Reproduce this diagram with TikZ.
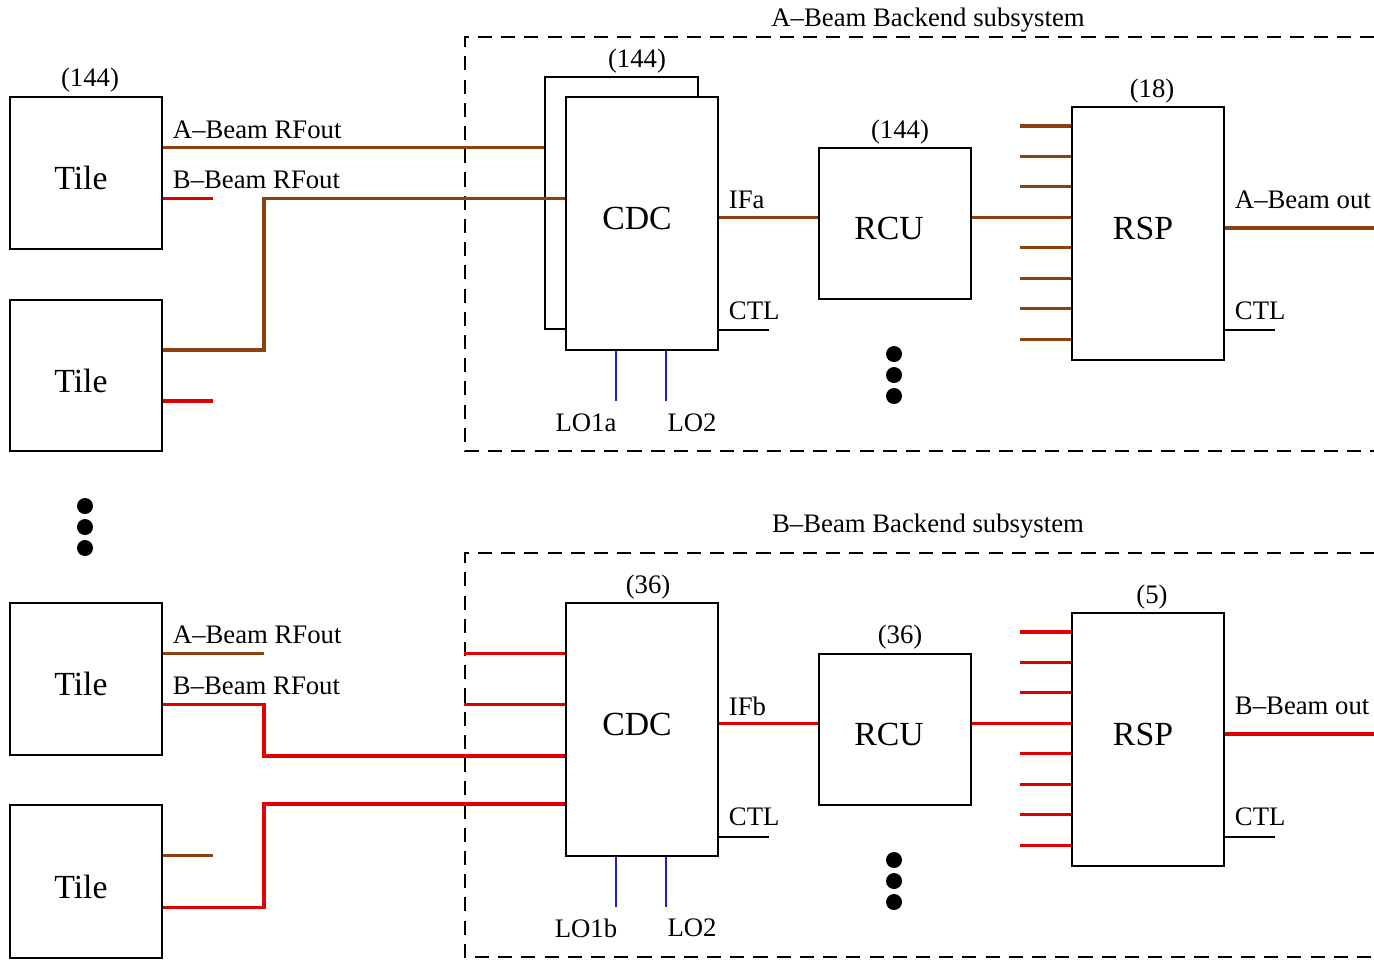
\documentclass[tikz,border=0pt]{standalone}
\usepackage{fontspec}
\setmainfont{Liberation Serif}
\usetikzlibrary{calc,positioning}
\definecolor{abrown}{RGB}{140,66,16}
\definecolor{bred}{RGB}{222,0,0}
\definecolor{loblue}{RGB}{30,30,200}
\newcommand{\bigtxt}{\fontsize{9.6}{11}\selectfont}
\newcommand{\smalltxt}{\fontsize{7.6}{9}\selectfont}

\begin{document}
\begin{tikzpicture}[x=0.01cm,y=-0.01cm,line width=0.55pt,
  blk/.style={draw,fill=white,inner sep=0pt},
  tile/.style={blk,minimum width=1.52cm,minimum height=1.52cm},
  tall/.style={blk,minimum width=1.52cm,minimum height=2.53cm},
  big/.style={font=\bigtxt,inner sep=0pt},
  lbl/.style={font=\smalltxt,inner sep=0pt},
  abeam/.style={abrown,line width=0.9pt},
  bbeam/.style={bred,line width=0.9pt},
  lo/.style={loblue,line width=0.6pt},
  subsys/.style={dash pattern=on 4pt off 2.6pt},
  blob/.style={fill=black}]
  \useasboundingbox (0,0) rectangle (1374,959);
  % subsystem frames
  \draw[subsys] (1374,37) -- (465,37) -- (465,451) -- (1374,451);
  \draw[subsys] (1374,553) -- (465,553) -- (465,957) -- (1374,957);
  \node[lbl] (titleA) at (928,20) {A--Beam Backend subsystem};
  \node[lbl] (titleB) at (928,526) {B--Beam Backend subsystem};
  % tiles
  \node[tile] (tile1) at (86,173) {};
  \node[tile,minimum height=1.51cm] (tile2) at (86,375.5) {};
  \node[tile] (tile3) at (86,679) {};
  \node[tile,minimum height=1.53cm] (tile4) at (86,881.5) {};
  \foreach \t in {1,...,4} {
    \node[big] (tile\t txt) at ([shift={(-5,5)}]tile\t.center) {Tile};
    \coordinate (t\t a) at ($(tile\t.north east)!1/3!(tile\t.south east)$);
    \coordinate (t\t b) at ($(tile\t.north east)!2/3!(tile\t.south east)$);
  }
  \node[lbl] (ntile) at (90,80) {(144)};
  \foreach \y in {506,527,548} \fill[blob] (85,\y) circle (0.08cm);
  \node[lbl,anchor=west] (rfA1) at (172,130) {A--Beam RFout};
  \node[lbl,anchor=west] (rfB1) at (172,180) {B--Beam RFout};
  \node[lbl,anchor=west] (rfA3) at (172,635) {A--Beam RFout};
  \node[lbl,anchor=west] (rfB3) at (172,686) {B--Beam RFout};

  % A-beam chain
  \node[tall,minimum width=1.53cm,minimum height=2.52cm] (cdcAback) at (621.5,203) {};
  \node[tall] (cdcA) at (642,223.5) {};
  \node[big] (cdcAtxt) at (637,218) {CDC};
  \node[lbl] (ncdcA) at (637,61) {(144)};
  \node[tile,minimum height=1.51cm] (rcuA) at (895,223.5) {};
  \node[big] (rcuAtxt) at (889,228) {RCU};
  \node[lbl] (nrcuA) at (900,132) {(144)};
  \node[tall] (rspA) at (1148,233.5) {};
  \node[big] (rspAtxt) at (1143,228) {RSP};
  \node[lbl] (nrspA) at (1152,91) {(18)};
  \foreach \k in {0,...,7}
    \coordinate (sA\k) at ([yshift={-0.2cm-\k*0.3043cm}]rspA.north west);
  \foreach \k in {0,1,2,4,5,6,7} \draw[abeam] (sA\k) -- ++(-51,0);
  \draw[abeam] (t1a) -- (t1a -| cdcAback.west);
  \draw[bbeam] (t1b) -- ++(50,0);
  \draw[abeam] (t2a) -- ++(101,0) |- (cdcA.west |- t1b);
  \draw[bbeam] (t2b) -- ++(50,0);
  \draw[abeam] (cdcA.east |- sA3) -- (rcuA.west |- sA3);
  \draw[abeam] (rcuA.east |- sA3) -- (sA3);
  \draw[abeam] ([yshift=0.055cm]rspA.east) -- ++(150,0);
  \draw ([yshift=0.21cm]cdcA.south east) -- ++(50,0);
  \draw ([yshift=0.31cm]rspA.south east) -- ++(50,0);
  \draw[lo] ([xshift=0.51cm]cdcA.south west) -- ++(0,50);
  \draw[lo] ([xshift=1.01cm]cdcA.south west) -- ++(0,50);
  \node[lbl,anchor=west] (ifA) at (728,200) {IFa};
  \node[lbl,anchor=west] (ctlcA) at (728,311) {CTL};
  \node[lbl,anchor=west] (outA) at (1234,200) {A--Beam out};
  \node[lbl,anchor=west] (ctlrA) at (1234,311) {CTL};
  \node[lbl] (loA1) at (586,423) {LO1a};
  \node[lbl] (loA2) at (692,423) {LO2};
  \foreach \y in {354,375,396} \fill[blob] (894,\y) circle (0.08cm);

  % B-beam chain
  \node[tall] (cdcB) at (642,729.5) {};
  \node[big] (cdcBtxt) at (637,724) {CDC};
  \node[lbl] (ncdcB) at (648,587) {(36)};
  \node[tile,minimum height=1.51cm] (rcuB) at (895,729.5) {};
  \node[big] (rcuBtxt) at (889,734) {RCU};
  \node[lbl] (nrcuB) at (900,637) {(36)};
  \node[tall] (rspB) at (1148,739.5) {};
  \node[big] (rspBtxt) at (1143,734) {RSP};
  \node[lbl] (nrspB) at (1152,597) {(5)};
  \foreach \k in {0,...,7}
    \coordinate (sB\k) at ([yshift={-0.2cm-\k*0.3043cm}]rspB.north west);
  \foreach \k in {0,1,2,4,5,6,7} \draw[bbeam] (sB\k) -- ++(-51,0);
  \draw[abeam] (t3a) -- ++(101,0);
  \draw[bbeam] (t3b) -- ++(101,0) |- (cdcB.west |- tile3.south);
  \draw[abeam] (t4a) -- ++(50,0);
  \draw[bbeam] (t4b) -- ++(101,0) |- (cdcB.west |- tile4.north);
  \draw[bbeam] (cdcB.west |- t3a) -- ++(-101,0);
  \draw[bbeam] (cdcB.west |- t3b) -- ++(-101,0);
  \draw[bbeam] (cdcB.east |- sB3) -- (rcuB.west |- sB3);
  \draw[bbeam] (rcuB.east |- sB3) -- (sB3);
  \draw[bbeam] ([yshift=0.055cm]rspB.east) -- ++(150,0);
  \draw ([yshift=0.2cm]cdcB.south east) -- ++(50,0);
  \draw ([yshift=0.3cm]rspB.south east) -- ++(50,0);
  \draw[lo] ([xshift=0.51cm]cdcB.south west) -- ++(0,50);
  \draw[lo] ([xshift=1.01cm]cdcB.south west) -- ++(0,50);
  \node[lbl,anchor=west] (ifB) at (728,706) {IFb};
  \node[lbl,anchor=west] (ctlcB) at (728,817) {CTL};
  \node[lbl,anchor=west] (outB) at (1234,706) {B--Beam out};
  \node[lbl,anchor=west] (ctlrB) at (1234,817) {CTL};
  \node[lbl] (loB1) at (586,928) {LO1b};
  \node[lbl] (loB2) at (692,928) {LO2};
  \foreach \y in {860,881,902} \fill[blob] (894,\y) circle (0.08cm);
\end{tikzpicture}
\end{document}
